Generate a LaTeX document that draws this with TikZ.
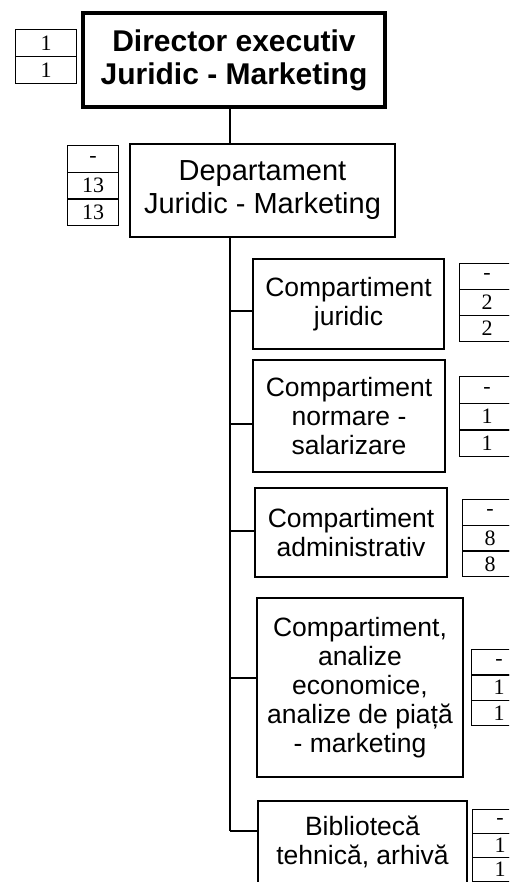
\documentclass[tikz,border=0pt]{standalone}
\usepackage{fontspec}
\setmainfont{Liberation Sans}
\newfontfamily\numfont{Liberation Serif}
\begin{document}
\begin{tikzpicture}[x=1pt,y=-1pt,
  headbox/.style={draw, line width=3.2pt, align=center, inner sep=0pt,
    font=\bfseries\fontsize{30}{33}\selectfont},
  unitbox/.style={draw, line width=2pt, align=center, inner sep=0pt,
    font=\fontsize{26.5}{29}\selectfont},
  cell/.style={draw, line width=1.3pt, inner sep=0pt, anchor=north west,
    font=\numfont\fontsize{22}{22}\selectfont},
  link/.style={line width=2pt}]
\useasboundingbox (0,0) rectangle (509,882);
\clip (0,0) rectangle (509,882);

% management boxes
\node[headbox, minimum width=302, minimum height=94] (dir) at (234,60)
  {Director executiv\\Juridic - Marketing};
\node[unitbox, minimum width=265, minimum height=93, font=\fontsize{29}{33}\selectfont] (dep) at (262.5,190.5)
  {Departament\\Juridic - Marketing};

% compartments
\node[unitbox, minimum width=191, minimum height=90] (jur) at (348.5,304)
  {Compartiment\\juridic};
\node[unitbox, minimum width=192, minimum height=112] (norm) at (349,416)
  {Compartiment\\normare -\\salarizare};
\node[unitbox, minimum width=192, minimum height=89] (adm) at (351,532.5)
  {Compartiment\\administrativ};
\node[unitbox, minimum width=206, minimum height=179] (anal) at (360,687.5)
  {Compartiment,\\analize\\economice,\\analize de piață\\- marketing};
\node[unitbox, anchor=north, minimum width=209, inner ysep=15pt] (bib) at (362.5,800)
  {Bibliotecă\\tehnică, arhivă};

% staff count stacks
\node[cell, minimum width=61, minimum height=27] (s0a) at (15,29) {1};
\node[cell, minimum width=61, minimum height=27] (s0b) at (15,56) {1};

\node[cell, minimum width=51, minimum height=26.7] (s1a) at (67,145) {-};
\node[cell, minimum width=51, minimum height=26.7] (s1b) at (67,171.7) {13};
\node[cell, minimum width=51, minimum height=26.7] (s1c) at (67,198.3) {13};

\node[cell, minimum width=55, minimum height=26] (s2a) at (459,263) {-};
\node[cell, minimum width=55, minimum height=26] (s2b) at (459,289) {2};
\node[cell, minimum width=55, minimum height=26] (s2c) at (459,315) {2};

\node[cell, minimum width=55, minimum height=26.7] (s3a) at (459,376) {-};
\node[cell, minimum width=55, minimum height=26.7] (s3b) at (459,402.7) {1};
\node[cell, minimum width=55, minimum height=26.7] (s3c) at (459,429.3) {1};

\node[cell, minimum width=55, minimum height=25.7] (s4a) at (462,499) {-};
\node[cell, minimum width=55, minimum height=25.7] (s4b) at (462,524.7) {8};
\node[cell, minimum width=55, minimum height=25.7] (s4c) at (462,550.3) {8};

\node[cell, minimum width=55, minimum height=25.3] (s5a) at (471,649) {-};
\node[cell, minimum width=55, minimum height=25.3] (s5b) at (471,674.3) {1};
\node[cell, minimum width=55, minimum height=25.3] (s5c) at (471,699.7) {1};

\node[cell, minimum width=55, minimum height=24] (s6a) at (472,809) {-};
\node[cell, minimum width=55, minimum height=24] (s6b) at (472,833) {1};
\node[cell, minimum width=55, minimum height=24] (s6c) at (472,857) {1};

% connectors
\coordinate (sp) at (229.5,0);
\coordinate (tj) at (229.5,311);
\coordinate (tn) at (229.5,424);
\coordinate (ta) at (229.5,531);
\coordinate (te) at (229.5,678);
\coordinate (tb) at (229.5,831);
\draw[link] (dir.south -| sp) -- (dep.north -| sp);
\draw[link] (dep.south -| sp) -- (tb);
\draw[link] (tj) -- (tj -| jur.west);
\draw[link] (tn) -- (tn -| norm.west);
\draw[link] (ta) -- (ta -| adm.west);
\draw[link] (te) -- (te -| anal.west);
\draw[link] (tb) -- (tb -| bib.west);
\end{tikzpicture}
\end{document}
